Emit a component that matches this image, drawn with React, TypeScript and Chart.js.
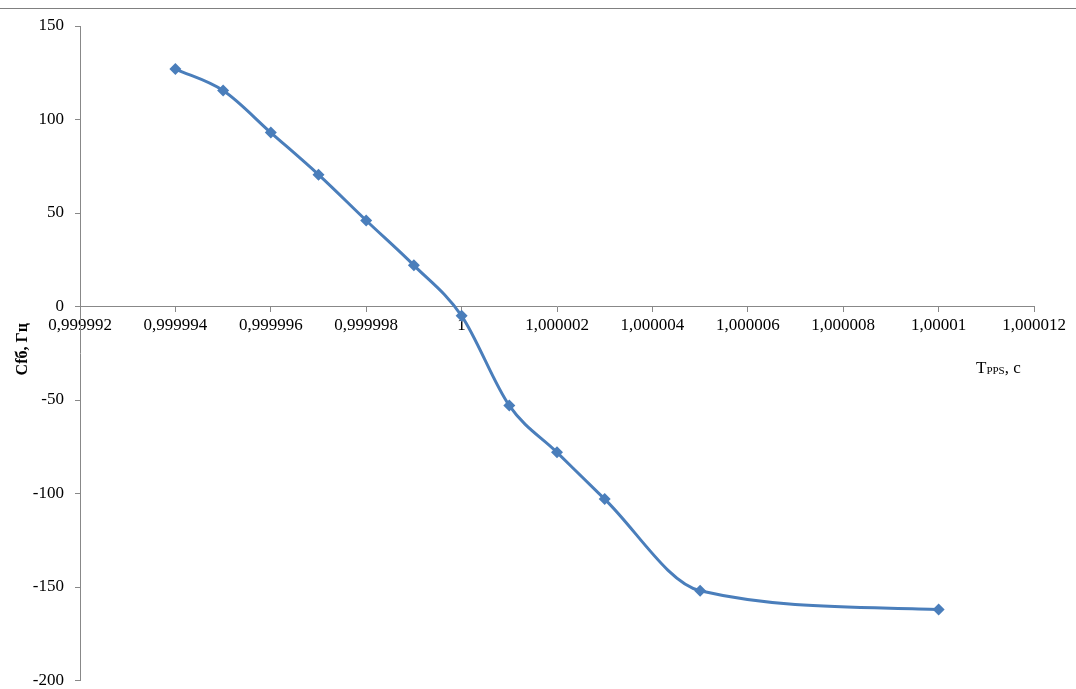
import React, { useEffect, useRef } from "react";
import { Chart, registerables } from "chart.js";

Chart.register(...registerables);

const xValues = [0.999994, 0.999995, 0.999996, 0.999997, 0.999998, 0.999999, 1, 1.000001, 1.000002, 1.000003, 1.000005, 1.00001];
const yValues = [127, 115.5, 93, 70.5, 46, 22, -5, -53, -78, -103, -152, -162];

const xTickValues = [0.999992, 0.999994, 0.999996, 0.999998, 1, 1.000002, 1.000004, 1.000006, 1.000008, 1.00001, 1.000012];
const xTickLabels = ["0,999992", "0,999994", "0,999996", "0,999998", "1", "1,000002", "1,000004", "1,000006", "1,000008", "1,00001", "1,000012"];
const yTickValues = [-200, -150, -100, -50, 0, 50, 100, 150];

const yTitle = "Сfб, Гц";
const xTitleMain = "T";
const xTitleSub = "PPS";
const xTitleTail = ", c";

const FONT = '"Liberation Serif", "Times New Roman", serif';
const LINE_COLOR = "#4A7EBB";

const decorPlugin = {
  id: "decor",
  afterDraw(chart: any) {
    const ctx = chart.ctx;
    const area = chart.chartArea;
    ctx.save();
    ctx.strokeStyle = "#808080";
    ctx.lineWidth = 1;
    ctx.beginPath();
    ctx.moveTo(0, 8.5);
    ctx.lineTo(chart.width, 8.5);
    ctx.stroke();

    ctx.fillStyle = "#000";
    ctx.save();
    ctx.translate(23, (area.top + area.bottom) / 2 - 4);
    ctx.rotate(-Math.PI / 2);
    ctx.font = `bold 16px ${FONT}`;
    ctx.textAlign = "center";
    ctx.textBaseline = "middle";
    ctx.fillText(yTitle, 0, 0);
    ctx.restore();

    let x = 976;
    const base = 373;
    ctx.textAlign = "left";
    ctx.textBaseline = "alphabetic";
    ctx.font = `17px ${FONT}`;
    ctx.fillText(xTitleMain, x, base);
    x += ctx.measureText(xTitleMain).width;
    ctx.font = `11px ${FONT}`;
    ctx.fillText(xTitleSub, x, base + 1);
    x += ctx.measureText(xTitleSub).width;
    ctx.font = `17px ${FONT}`;
    ctx.fillText(xTitleTail, x, base);
    ctx.restore();
  },
};

export default function App() {
  const ref = useRef<HTMLCanvasElement>(null);
  useEffect(() => {
    if (!ref.current) return;
    const chart = new Chart(ref.current, {
      type: "line",
      data: {
        datasets: [
          {
            data: xValues.map((x, i) => ({ x, y: yValues[i] })),
            borderColor: LINE_COLOR,
            backgroundColor: LINE_COLOR,
            borderWidth: 3,
            pointStyle: "rectRot",
            pointRadius: 6,
            pointBorderWidth: 0,
            cubicInterpolationMode: "monotone",
            fill: false,
          },
        ],
      },
      options: {
        animation: false,
        responsive: false,
        devicePixelRatio: 1,
        layout: { padding: { left: 0, top: 26, right: 42, bottom: 8.5 } },
        plugins: { legend: { display: false }, tooltip: { enabled: false } },
        scales: {
          x: {
            type: "linear",
            position: { y: 0 } as any,
            min: 0.999992,
            max: 1.000012,
            afterBuildTicks: (scale: any) => {
              scale.ticks = xTickValues.map((v) => ({ value: v }));
            },
            ticks: {
              autoSkip: false,
              maxRotation: 0,
              padding: 4,
              color: "#000",
              font: { family: FONT, size: 17 },
              callback: (_v: any, i: number) => xTickLabels[i],
            },
            grid: { drawOnChartArea: false, drawTicks: true, tickLength: 5, color: "#888" },
            border: { color: "#888", width: 1 },
          },
          y: {
            type: "linear",
            min: -200,
            max: 150,
            afterBuildTicks: (scale: any) => {
              scale.ticks = yTickValues.map((v) => ({ value: v }));
            },
            afterFit: (scale: any) => {
              scale.width = 80;
              scale.paddingTop = 0;
              scale.paddingBottom = 0;
            },
            ticks: {
              padding: 11,
              color: "#000",
              font: { family: FONT, size: 17 },
              callback: (v: any) => String(v),
            },
            grid: { drawOnChartArea: false, drawTicks: true, tickLength: 5, color: "#888" },
            border: { color: "#888", width: 1 },
          },
        },
      },
      plugins: [decorPlugin],
    });
    return () => chart.destroy();
  }, []);
  return (
    <div style={{ position: "fixed", left: 0, top: 0, width: 1076, height: 689, background: "#fff" }}>
      <canvas ref={ref} width={1076} height={689} style={{ display: "block", width: 1076, height: 689 }} />
    </div>
  );
}
